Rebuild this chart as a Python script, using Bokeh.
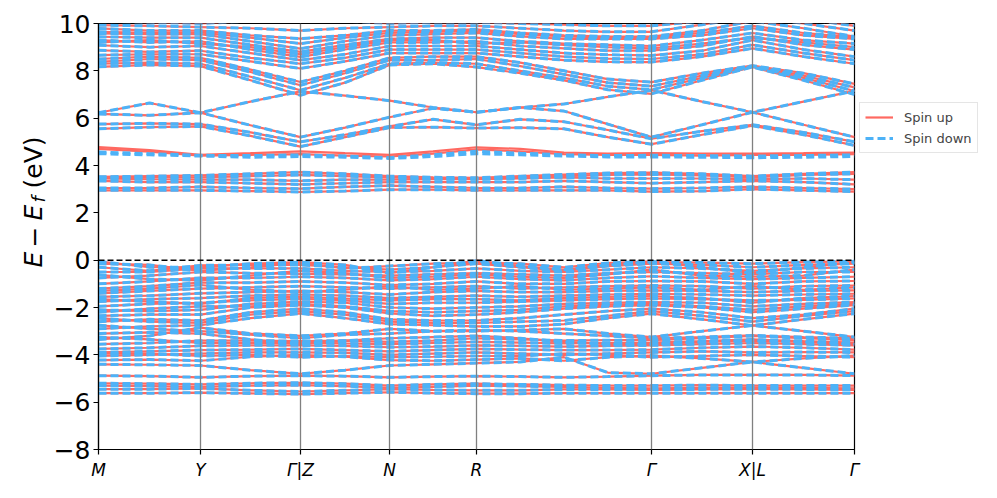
import math
from bokeh.plotting import figure
from bokeh.layouts import row
from bokeh.models import Span, Label, Legend, LegendItem, FixedTicker, Range1d
from bokeh.embed import file_html
from bokeh.resources import INLINE

# k-path distances (nodes where energies were read) and high-symmetry points
k_nodes = [0.0, 0.51, 1.02, 1.52, 2.02, 2.465, 2.91, 3.345, 3.78, 4.217, 4.655,
           5.093, 5.53, 6.035, 6.54, 7.05, 7.56]
hs_k = [0.0, 1.02, 2.02, 2.91, 3.78, 5.53, 6.54, 7.56]
hs_labels = ["M", "Y", "Γ|Z", "N", "R", "Γ", "X|L", "Γ"]
y_ticks = [-8, -6, -4, -2, 0, 2, 4, 6, 8, 10]

# valence bands (both spins)
valence_bands = [
    [-5.62,-5.62,-5.60,-5.63,-5.66,-5.62,-5.58,-5.62,-5.64,-5.64,-5.62,-5.62,-5.62,-5.62,-5.62,-5.62,-5.62],
    [-5.45,-5.45,-5.42,-5.50,-5.55,-5.50,-5.45,-5.48,-5.50,-5.50,-5.46,-5.46,-5.48,-5.46,-5.45,-5.46,-5.48],
    [-5.30,-5.32,-5.35,-5.30,-5.28,-5.32,-5.40,-5.35,-5.30,-5.32,-5.36,-5.40,-5.42,-5.40,-5.38,-5.40,-5.42],
    [-5.20,-5.22,-5.25,-5.20,-5.18,-5.22,-5.30,-5.25,-5.22,-5.25,-5.28,-5.30,-5.30,-5.28,-5.30,-5.30,-5.30],
    [-4.88,-4.90,-4.95,-4.90,-4.88,-4.90,-4.95,-4.92,-4.90,-4.92,-4.95,-4.92,-4.88,-4.85,-4.85,-4.85,-4.88],
    [-4.40,-4.42,-4.45,-4.65,-4.80,-4.65,-4.45,-4.40,-4.35,-4.30,-4.10,-4.75,-4.80,-4.55,-4.30,-4.55,-4.80],
    [-4.22,-4.20,-4.25,-4.08,-4.00,-4.08,-4.22,-4.25,-4.20,-4.15,-4.25,-4.10,-4.03,-4.15,-4.30,-4.15,-4.03],
    [-3.95,-3.95,-4.05,-4.00,-4.10,-4.05,-4.10,-4.08,-4.05,-4.05,-3.95,-4.00,-4.10,-4.05,-4.00,-4.05,-4.10],
    [-4.05,-4.00,-3.95,-3.90,-3.90,-3.92,-4.00,-3.95,-3.90,-3.95,-4.00,-3.95,-3.90,-3.85,-3.90,-3.88,-3.90],
    [-3.90,-3.85,-3.80,-3.78,-3.75,-3.80,-3.85,-3.80,-3.75,-3.78,-3.80,-3.80,-3.78,-3.70,-3.65,-3.70,-3.78],
    [-3.75,-3.70,-3.62,-3.60,-3.60,-3.62,-3.68,-3.65,-3.60,-3.62,-3.65,-3.62,-3.60,-3.55,-3.50,-3.55,-3.60],
    [-3.55,-3.50,-3.40,-3.40,-3.42,-3.40,-3.45,-3.40,-3.30,-3.35,-3.40,-3.38,-3.38,-3.30,-3.20,-3.30,-3.38],
    [-3.25,-3.35,-3.50,-3.50,-3.48,-3.52,-3.55,-3.50,-3.45,-3.48,-3.52,-3.50,-3.48,-3.42,-3.35,-3.42,-3.48],
    [-3.10,-3.05,-3.10,-3.35,-3.55,-3.40,-3.30,-3.25,-3.20,-3.30,-3.45,-3.55,-3.55,-3.45,-3.40,-3.45,-3.55],
    [-2.75,-2.90,-3.00,-3.15,-3.30,-3.15,-3.10,-3.00,-2.95,-3.00,-3.10,-3.20,-3.30,-3.25,-3.18,-3.25,-3.30],
    [-3.35,-3.20,-2.85,-3.10,-3.20,-3.10,-2.90,-3.00,-3.00,-2.95,-2.90,-3.10,-3.25,-3.00,-2.76,-3.00,-3.25],
    [-2.90,-2.80,-2.75,-2.45,-2.25,-2.45,-2.70,-2.75,-2.80,-2.80,-2.70,-2.45,-2.26,-2.50,-2.76,-2.50,-2.26],
    [-2.60,-2.50,-2.55,-2.20,-2.05,-2.20,-2.50,-2.55,-2.55,-2.45,-2.30,-2.15,-2.05,-2.20,-2.45,-2.30,-2.05],
    [-2.45,-2.60,-2.65,-2.30,-2.15,-2.30,-2.60,-2.65,-2.65,-2.60,-2.55,-2.35,-2.15,-2.35,-2.60,-2.35,-2.15],
    [-2.35,-2.30,-2.30,-2.00,-1.90,-2.00,-2.25,-2.35,-2.30,-2.20,-2.05,-1.95,-1.90,-2.00,-2.20,-2.05,-1.90],
    [-2.20,-2.05,-1.95,-1.95,-1.85,-1.95,-2.15,-2.20,-2.15,-2.10,-1.95,-1.88,-1.85,-1.95,-2.10,-1.95,-1.85],
    [-2.10,-2.15,-2.10,-1.85,-1.75,-1.80,-2.00,-2.05,-2.00,-1.95,-1.85,-1.80,-1.77,-1.80,-1.95,-1.85,-1.77],
    [-1.95,-1.85,-1.80,-1.70,-1.63,-1.70,-1.85,-1.80,-1.80,-1.75,-1.70,-1.65,-1.62,-1.65,-1.70,-1.68,-1.62],
    [-1.65,-1.75,-1.85,-1.60,-1.55,-1.62,-1.70,-1.65,-1.65,-1.70,-1.60,-1.55,-1.52,-1.60,-1.80,-1.60,-1.52],
    [-1.75,-1.65,-1.60,-1.50,-1.45,-1.50,-1.60,-1.55,-1.50,-1.55,-1.50,-1.45,-1.42,-1.45,-1.50,-1.45,-1.42],
    [-1.55,-1.50,-1.40,-1.35,-1.30,-1.35,-1.45,-1.35,-1.30,-1.35,-1.35,-1.30,-1.28,-1.30,-1.35,-1.30,-1.28],
    [-1.30,-1.20,-1.05,-1.25,-1.35,-1.25,-1.10,-1.25,-1.20,-1.10,-1.25,-1.20,-1.15,-1.25,-1.10,-1.25,-1.15],
    [-1.40,-1.30,-1.20,-1.15,-1.10,-1.15,-1.20,-1.15,-1.10,-1.20,-1.15,-1.10,-1.07,-1.10,-1.20,-1.10,-1.07],
    [-1.20,-1.10,-0.95,-0.95,-0.90,-0.95,-1.05,-1.00,-0.90,-1.00,-1.00,-0.90,-0.88,-0.90,-1.00,-0.90,-0.88],
    [-1.00,-0.90,-0.75,-0.75,-0.70,-0.75,-0.85,-0.80,-0.70,-0.80,-0.85,-0.75,-0.68,-0.75,-0.80,-0.75,-0.70],
    [-0.62,-0.80,-0.85,-0.65,-0.45,-0.55,-0.75,-0.70,-0.60,-0.70,-0.75,-0.60,-0.40,-0.65,-0.70,-0.65,-0.40],
    [-0.75,-0.65,-0.50,-0.55,-0.58,-0.60,-0.65,-0.60,-0.55,-0.60,-0.65,-0.55,-0.50,-0.55,-0.60,-0.50,-0.50],
    [-0.50,-0.50,-0.35,-0.35,-0.35,-0.45,-0.50,-0.45,-0.35,-0.45,-0.50,-0.40,-0.30,-0.35,-0.45,-0.35,-0.30],
    [-0.30,-0.45,-0.22,-0.20,-0.20,-0.30,-0.40,-0.30,-0.15,-0.30,-0.45,-0.25,-0.15,-0.20,-0.30,-0.20,-0.15],
    [-0.15,-0.20,-0.45,-0.30,-0.12,-0.35,-0.25,-0.15,-0.10,-0.15,-0.30,-0.12,-0.05,-0.30,-0.55,-0.30,-0.10],
    [-0.05,-0.30,-0.30,-0.15,-0.08,-0.20,-0.55,-0.30,-0.02,-0.25,-0.40,-0.20,-0.08,-0.10,-0.15,-0.08,-0.05],
]

# flat conduction bands around 3 eV (both spins)
cond_flat = [
    [2.95,2.95,2.95,2.92,2.88,2.92,2.98,2.98,2.95,2.95,2.95,2.95,2.90,2.92,3.00,2.95,2.90],
    [3.05,3.05,3.10,3.05,3.02,3.10,3.15,3.10,3.05,3.05,3.10,3.05,3.02,3.05,3.10,3.05,3.00],
    [3.35,3.30,3.30,3.25,3.20,3.25,3.30,3.30,3.30,3.30,3.35,3.30,3.25,3.30,3.35,3.30,3.20],
    [3.45,3.42,3.40,3.40,3.35,3.40,3.40,3.42,3.42,3.45,3.50,3.45,3.45,3.45,3.42,3.45,3.40],
    [3.50,3.50,3.50,3.55,3.60,3.55,3.50,3.45,3.45,3.50,3.55,3.60,3.62,3.58,3.50,3.60,3.65],
    [3.52,3.55,3.58,3.65,3.72,3.65,3.55,3.50,3.48,3.55,3.62,3.68,3.70,3.65,3.55,3.65,3.72],
]

# spin-split bands near 4.5 eV
spin_up_only = [
    [4.78,4.65,4.45,4.52,4.60,4.52,4.45,4.60,4.77,4.70,4.55,4.50,4.52,4.50,4.50,4.52,4.55],
    [4.70,4.58,4.42,4.45,4.48,4.42,4.38,4.50,4.68,4.60,4.48,4.45,4.45,4.42,4.45,4.45,4.48],
]
spin_down_only = [
    [4.57,4.50,4.43,4.42,4.45,4.40,4.33,4.45,4.60,4.52,4.45,4.42,4.43,4.42,4.40,4.42,4.45],
    [4.50,4.45,4.40,4.35,4.38,4.35,4.30,4.38,4.50,4.45,4.40,4.36,4.36,4.35,4.33,4.35,4.38],
]

# dispersive conduction bands 4.8 - 7.2 eV (both spins)
cond_mid = [
    [6.23,6.64,6.23,6.70,7.13,6.95,6.74,6.45,6.25,6.45,6.60,6.90,7.18,6.70,6.25,5.72,5.20],
    [6.18,6.12,6.23,5.70,5.20,5.60,6.04,6.42,6.25,6.45,6.30,5.75,5.20,5.72,6.25,6.70,7.15],
    [5.75,5.78,5.75,5.40,5.00,5.30,5.65,5.95,5.72,5.95,5.85,5.50,5.13,5.45,5.72,5.40,5.00],
    [5.55,5.62,5.65,5.25,4.80,5.20,5.60,5.62,5.58,5.60,5.55,5.20,4.90,5.30,5.68,5.30,4.85],
]

# high conduction bands 7 - 10 eV (both spins)
cond_high = [
    [8.17,8.25,8.20,7.60,6.97,7.50,8.25,8.30,8.16,7.90,7.60,7.20,7.03,7.60,8.16,7.60,7.00],
    [8.30,8.35,8.30,7.75,7.18,7.70,8.30,8.35,8.30,8.00,7.70,7.35,7.20,7.70,8.18,7.70,7.15],
    [8.38,8.50,8.45,7.95,7.39,7.90,8.45,8.45,8.50,8.20,7.85,7.50,7.35,7.80,8.20,7.80,7.30],
    [8.50,8.60,8.55,8.05,7.53,8.00,8.55,8.60,8.60,8.35,8.00,7.65,7.52,7.90,8.22,7.90,7.45],
    [8.66,8.70,8.70,8.40,8.10,8.40,8.75,8.75,8.75,8.60,8.45,8.38,8.37,8.60,8.95,8.60,8.30],
    [8.87,8.80,8.85,8.55,8.30,8.55,8.90,8.90,8.90,8.75,8.60,8.52,8.50,8.70,9.10,8.75,8.45],
    [9.08,9.00,9.05,8.75,8.45,8.70,9.05,9.05,9.05,8.90,8.75,8.68,8.65,8.85,9.30,8.90,8.60],
    [9.20,9.30,9.15,9.00,8.70,9.00,9.30,9.30,9.15,9.20,9.10,9.00,8.95,9.15,9.40,9.20,9.00],
    [9.30,9.20,9.25,8.90,8.59,8.90,9.20,9.20,9.25,9.05,8.95,8.85,8.85,9.05,9.45,9.10,8.90],
    [9.44,9.40,9.40,9.10,8.80,9.10,9.35,9.40,9.40,9.25,9.15,9.10,9.05,9.30,9.60,9.30,9.15],
    [9.58,9.55,9.55,9.25,8.94,9.25,9.50,9.55,9.60,9.45,9.35,9.35,9.35,9.50,9.80,9.50,9.35],
    [9.65,9.60,9.62,9.40,9.15,9.40,9.60,9.65,9.70,9.55,9.45,9.40,9.40,9.60,9.90,9.60,9.40],
    [9.79,9.70,9.70,9.50,9.36,9.50,9.70,9.70,9.75,9.60,9.50,9.45,9.45,9.70,10.10,9.80,9.45],
    [9.93,9.90,9.85,9.80,9.70,9.80,9.85,9.90,9.90,9.80,9.70,9.65,9.65,9.95,10.30,10.00,9.70],
    [10.10,10.05,10.00,10.10,10.20,10.10,10.00,10.05,10.05,10.00,9.95,9.90,9.90,10.10,10.40,10.20,9.90],
]

RED = "#ff6961"
BLUE = "#4db2f7"
FONT = "DejaVu Sans"

common = valence_bands + cond_flat + cond_mid + cond_high
up_bands = common + spin_up_only
down_bands = common + spin_down_only

p = figure(frame_width=756, frame_height=426, output_backend="svg", toolbar_location=None,
           x_range=Range1d(hs_k[0], hs_k[-1]), y_range=Range1d(-8, 10),
           min_border_left=47, min_border_top=23, min_border_bottom=41, min_border_right=135,
           background_fill_color="white", border_fill_color="white")
p.xgrid.visible = False
p.ygrid.visible = False
p.outline_line_color = "black"
p.outline_line_width = 1.2

r_up = p.multi_line(xs=[k_nodes] * len(up_bands), ys=up_bands, line_color=RED, line_width=2.2)
r_dn = p.multi_line(xs=[k_nodes] * len(down_bands), ys=down_bands, line_color=BLUE,
                    line_width=3, line_dash="8 4")

for k in hs_k[1:-1]:
    p.add_layout(Span(location=k, dimension="height", line_color="#808080", line_width=1.3))
p.add_layout(Span(location=0, dimension="width", line_color="black", line_width=1.5, line_dash="6 3"))

# axes
p.xaxis.ticker = FixedTicker(ticks=hs_k)
p.xaxis.major_label_overrides = {k: lab for k, lab in zip(hs_k, hs_labels)}
p.xaxis.major_label_text_font = FONT
p.xaxis.major_label_text_font_size = "17px"
p.xaxis.major_label_text_font_style = "italic"
p.xaxis.major_label_text_color = "black"
p.xaxis.major_label_standoff = 5
p.yaxis.ticker = FixedTicker(ticks=y_ticks)
p.yaxis.major_label_overrides = {t: (str(t).replace("-", "\u2212")) for t in y_ticks}
p.yaxis.major_label_text_font = FONT
p.yaxis.major_label_text_font_size = "25px"
p.yaxis.major_label_text_color = "black"
p.yaxis.major_label_standoff = 3
for ax in (p.xaxis[0], p.yaxis[0]):
    ax.major_tick_out = 5
    ax.major_tick_in = 0
    ax.minor_tick_line_color = None
    ax.axis_line_color = "black"
    ax.axis_line_width = 1.2
    ax.major_tick_line_color = "black"
    ax.major_tick_line_width = 1.2

legend = Legend(items=[LegendItem(label="Spin up", renderers=[r_up]),
                       LegendItem(label="Spin down", renderers=[r_dn])],
                location=(5, 296))
legend.label_text_font = FONT
legend.label_text_font_size = "13px"
legend.border_line_color = "#cccccc"
legend.border_line_width = 1
legend.background_fill_alpha = 0.9
legend.glyph_width = 28
legend.glyph_height = 16
legend.label_height = 18
legend.padding = 5
legend.spacing = 3
legend.margin = 0
legend.label_standoff = 11
p.add_layout(legend, "right")

# narrow panel holding the y-axis label: E − E_f (eV)
lab_fig = figure(width=50, height=490, output_backend="svg", toolbar_location=None,
                 x_axis_type=None, y_axis_type=None, min_border=0,
                 x_range=Range1d(0, 1), y_range=Range1d(0, 1),
                 background_fill_color="white", border_fill_color="white")
lab_fig.outline_line_color = None
lab_fig.xgrid.visible = False
lab_fig.ygrid.visible = False
lab_x = 33
pieces = [
    ("E", 182, "italic", "25px", 0),
    ("\u2212", 202, "normal", "25px", 0),
    ("E", 229, "italic", "25px", 0),
    ("f", 247, "italic", "18px", 5),
    ("(eV)", 261, "normal", "25px", 0),
]
for txt, yy, style, size, dx in pieces:
    lab_fig.add_layout(Label(x=lab_x + dx, y=yy, x_units="screen", y_units="screen", text=txt,
                             angle=math.pi / 2, text_font=FONT, text_font_style=style,
                             text_font_size=size, text_align="left", text_baseline="alphabetic",
                             text_color="black"))

layout = row(lab_fig, p)
open("out.html", "w").write(file_html(layout, INLINE))
